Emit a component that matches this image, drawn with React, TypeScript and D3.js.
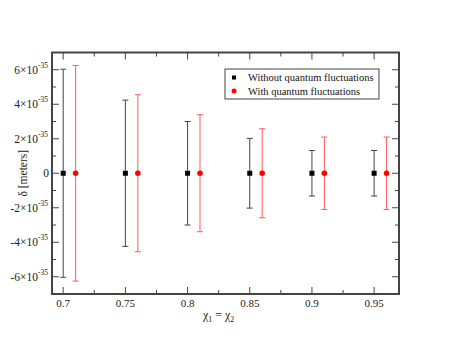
import React from 'react';
import * as d3 from 'd3';

// values in units of 1e-35 m
const chiValues = [0.7, 0.75, 0.8, 0.85, 0.9, 0.95];
const offset = 0.01; // red series drawn slightly to the right
const withoutDelta = [0, 0, 0, 0, 0, 0];
const withoutErr = [6.03, 4.24, 3.0, 2.02, 1.32, 1.32];
const withDelta = [0, 0, 0, 0, 0, 0];
const withErr = [6.25, 4.55, 3.39, 2.58, 2.1, 2.1];

const xTicks = [0.7, 0.75, 0.8, 0.85, 0.9, 0.95];
const xMinor = [0.725, 0.775, 0.825, 0.875, 0.925];
const yTicks = [-6, -4, -2, 0, 2, 4, 6];
const yMinor = [-7, -5, -3, -1, 1, 3, 5, 7];

const W = 449;
const H = 347;
const margin = { top: 52.5, right: 50, bottom: 53, left: 52 };

const App = () => {
    const width = W - margin.left - margin.right;
    const height = H - margin.top - margin.bottom;

    const xScale = d3.scaleLinear().domain([0.691, 0.97]).range([0, width]);
    const yScale = d3.scaleLinear().domain([-7, 7]).range([height, 0]);

    const frame = '#444';
    const font = 'Liberation Serif, Times New Roman, serif';

    const errorBar = (x: number, y: number, e: number, color: string, key: string) => {
        const cx = xScale(x);
        const capW = 3;
        return (
            <g key={key} stroke={color} strokeWidth={1} fill="none">
                <line x1={cx} x2={cx} y1={yScale(y + e)} y2={yScale(y - e)} />
                <line x1={cx - capW} x2={cx + capW} y1={yScale(y + e)} y2={yScale(y + e)} />
                <line x1={cx - capW} x2={cx + capW} y1={yScale(y - e)} y2={yScale(y - e)} />
            </g>
        );
    };

    return (
        <svg width={W} height={H} style={{ position: 'absolute', left: 0, top: 0, background: '#fff', fontFamily: font }}>
            <g transform={`translate(${margin.left}, ${margin.top})`}>
                {/* error bars */}
                {chiValues.map((c, i) => errorBar(c, withoutDelta[i], withoutErr[i], '#444', `b${i}`))}
                {chiValues.map((c, i) => errorBar(c + offset, withDelta[i], withErr[i], '#ff5a5a', `r${i}`))}

                {/* markers */}
                {chiValues.map((c, i) => (
                    <rect key={`bs${i}`} x={xScale(c) - 2.5} y={yScale(withoutDelta[i]) - 2.5} width={5} height={5} fill="#000" />
                ))}
                {chiValues.map((c, i) => (
                    <circle key={`rc${i}`} cx={xScale(c + offset)} cy={yScale(withDelta[i])} r={2.8} fill="#f00" />
                ))}

                {/* ticks, mirrored on all sides */}
                <g stroke={frame} strokeWidth={1}>
                    {xTicks.map((t) => (
                        <g key={`xt${t}`}>
                            <line x1={xScale(t)} x2={xScale(t)} y1={height} y2={height - 7} />
                            <line x1={xScale(t)} x2={xScale(t)} y1={0} y2={7} />
                        </g>
                    ))}
                    {xMinor.map((t) => (
                        <g key={`xm${t}`}>
                            <line x1={xScale(t)} x2={xScale(t)} y1={height} y2={height - 4} />
                            <line x1={xScale(t)} x2={xScale(t)} y1={0} y2={4} />
                        </g>
                    ))}
                    {yTicks.map((t) => (
                        <g key={`yt${t}`}>
                            <line x1={0} x2={7} y1={yScale(t)} y2={yScale(t)} />
                            <line x1={width} x2={width - 7} y1={yScale(t)} y2={yScale(t)} />
                        </g>
                    ))}
                    {yMinor.map((t) => (
                        <g key={`ym${t}`}>
                            <line x1={0} x2={4} y1={yScale(t)} y2={yScale(t)} />
                            <line x1={width} x2={width - 4} y1={yScale(t)} y2={yScale(t)} />
                        </g>
                    ))}
                </g>

                {/* frame */}
                <rect x={0} y={0} width={width} height={height} fill="none" stroke={frame} strokeWidth={2} />

                {/* x tick labels */}
                {xTicks.map((t) => (
                    <text key={`xl${t}`} x={xScale(t)} y={height + 13} textAnchor="middle" fontSize={11} fill="#222">
                        {String(t)}
                    </text>
                ))}

                {/* y tick labels */}
                {yTicks.map((t) =>
                    t === 0 ? (
                        <text key={`yl${t}`} x={-3} y={yScale(t) + 4} textAnchor="end" fontSize={11.5} fill="#222">0</text>
                    ) : (
                        <text key={`yl${t}`} x={-4} y={yScale(t) + 4} textAnchor="end" fontSize={11.5} fill="#222">
                            {`${t}×10`}
                            <tspan fontSize={7.5} dy={-6}>-35</tspan>
                        </text>
                    )
                )}

                {/* axis titles */}
                <text x={xScale(0.825)} y={height + 25} textAnchor="middle" fontSize={12} fill="#222">
                    χ<tspan fontSize={8} dy={3}>1</tspan>
                    <tspan dy={-3}> = χ</tspan>
                    <tspan fontSize={8} dy={3}>2</tspan>
                </text>
                <text
                    transform={`translate(${-25}, ${yScale(0)}) rotate(-90)`}
                    textAnchor="middle"
                    fontSize={11.5}
                    fill="#222"
                >
                    δ [meters]
                </text>

                {/* legend */}
                <g transform={`translate(${225 - margin.left}, ${69 - margin.top})`}>
                    <rect x={0} y={0} width={154} height={30} fill="#fff" stroke={frame} strokeWidth={1} />
                    <rect x={7} y={6.5} width={4} height={4} fill="#000" />
                    <text x={23} y={12} fontSize={10.5} fill="#111">Without quantum fluctuations</text>
                    <circle cx={9} cy={22} r={2.5} fill="#f00" />
                    <text x={23} y={25.5} fontSize={10.5} fill="#111">With quantum fluctuations</text>
                </g>
            </g>
        </svg>
    );
};

export default App;
